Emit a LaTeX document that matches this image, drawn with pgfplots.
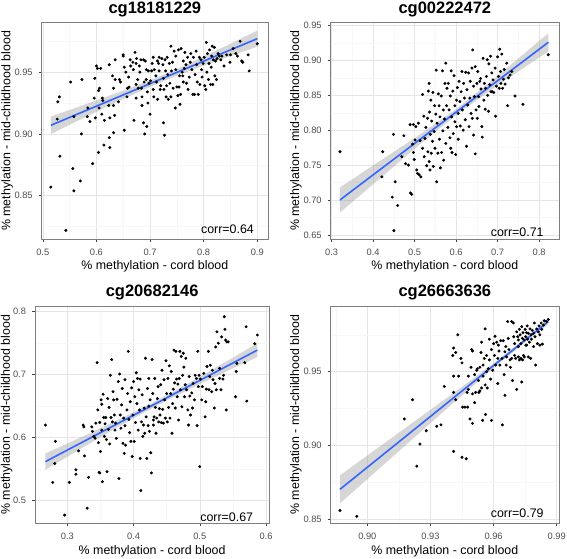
\documentclass[border=0pt]{standalone}
\usepackage{fontspec}
\setmainfont{Liberation Sans}
\usepackage{pgfplots}
\pgfplotsset{compat=1.18}
\definecolor{smoothblue}{HTML}{3366FF}
\definecolor{bandgrey}{HTML}{999999}
\definecolor{gridmaj}{HTML}{E5E5E5}
\definecolor{gridmin}{HTML}{F7F7F7}
\definecolor{bordergrey}{HTML}{7F7F7F}
\definecolor{ticktext}{HTML}{4D4D4D}
\pgfplotsset{
  ggpanel/.style={
    scale only axis,
    axis line style={bordergrey, line width=0.5pt},
    tick align=outside, tick pos=left,
    major tick length=3pt,
    major tick style={black!75, line width=0.5pt},
    minor tick length=0pt,
    grid=both,
    major grid style={gridmaj, line width=0.5pt},
    minor grid style={gridmin, line width=0.4pt},
    tick label style={font=\fontsize{9.3}{11}\selectfont, text=ticktext},
    xticklabel style={yshift=-3.5pt},
    yticklabel style={xshift=-2.5pt},
    label style={font=\fontsize{12.4}{14}\selectfont},
    title style={font=\fontsize{16.5}{19}\selectfont\bfseries},
    xlabel={\% methylation - cord blood},
    ylabel={\% methylation - mid-childhood blood},
    clip=true,
  },
  pts/.style={only marks, mark=*, mark size=1.3pt, black},
  band/.style={fill=bandgrey, draw=none, fill opacity=0.4},
  fit/.style={smoothblue, line width=1.6pt, no marks},
}
\begin{document}
\begin{tikzpicture}
%================ Panel 1 =================
\begin{axis}[ggpanel,
  at={(41.7pt,319pt)}, anchor=south west,
  width=226.3pt, height=216.3pt,
  xmin=0.498, xmax=0.920, ymin=0.815, ymax=0.990,
  xtick={0.5,0.6,0.7,0.8,0.9}, xticklabels={0.5,0.6,0.7,0.8,0.9},
  ytick={0.85,0.90,0.95}, yticklabels={0.85,0.90,0.95},
  minor xtick={0.55,0.65,0.75,0.85}, minor ytick={0.825,0.875,0.925,0.975},
  title={cg18181229},
  title style={at={(axis description cs:0.5,1.035)}, anchor=center},
  xlabel style={at={(axis description cs:0.5,-0.124)}, anchor=center},
  ylabel style={at={(axis description cs:-0.153,0.5)}, anchor=center, rotate=0},
]
\addplot[pts] coordinates {
(0.515,0.857)(0.543,0.822)(0.532,0.882)(0.556,0.872)(0.558,0.854)(0.570,0.862)(0.593,0.876)
(0.527,0.912)(0.528,0.926)(0.531,0.930)(0.552,0.942)(0.573,0.944)(0.572,0.900)(0.558,0.914)
(0.583,0.914)(0.584,0.921)(0.588,0.910)(0.598,0.913)(0.596,0.929)(0.597,0.945)(0.600,0.955)
(0.602,0.953)(0.608,0.953)(0.604,0.935)(0.606,0.937)(0.605,0.921)(0.604,0.885)(0.611,0.929)
(0.612,0.927)(0.610,0.916)(0.615,0.911)(0.614,0.891)(0.624,0.897)(0.625,0.889)(0.623,0.923)
(0.625,0.913)(0.624,0.956)(0.630,0.947)(0.632,0.937)(0.632,0.923)(0.634,0.915)(0.632,0.901)
(0.635,0.960)(0.635,0.944)(0.641,0.926)(0.643,0.944)(0.645,0.942)(0.650,0.964)(0.650,0.963)
(0.652,0.954)(0.652,0.903)(0.655,0.950)(0.657,0.930)(0.658,0.937)(0.660,0.946)(0.661,0.938)
(0.663,0.960)(0.664,0.955)(0.668,0.958)(0.669,0.952)(0.670,0.911)(0.672,0.966)(0.674,0.957)
(0.674,0.940)(0.674,0.929)(0.675,0.961)(0.677,0.944)(0.678,0.937)(0.680,0.955)(0.681,0.950)
(0.683,0.960)(0.684,0.937)(0.685,0.930)(0.685,0.923)(0.688,0.909)(0.688,0.960)(0.689,0.942)
(0.690,0.900)(0.691,0.959)(0.693,0.952)(0.693,0.944)(0.694,0.906)(0.695,0.934)(0.696,0.925)
(0.697,0.951)(0.698,0.941)(0.700,0.916)(0.701,0.943)(0.703,0.951)(0.704,0.957)(0.706,0.962)
(0.706,0.936)(0.707,0.930)(0.708,0.952)(0.711,0.947)(0.712,0.942)(0.714,0.928)(0.714,0.959)
(0.716,0.957)(0.717,0.962)(0.717,0.951)(0.719,0.936)(0.720,0.939)(0.722,0.961)(0.724,0.956)
(0.725,0.945)(0.725,0.909)(0.726,0.936)(0.727,0.899)(0.728,0.960)(0.729,0.951)(0.730,0.930)
(0.731,0.939)(0.732,0.962)(0.733,0.948)(0.734,0.928)(0.736,0.957)(0.737,0.941)(0.739,0.971)
(0.739,0.930)(0.740,0.951)(0.742,0.958)(0.743,0.937)(0.745,0.967)(0.747,0.921)(0.748,0.963)
(0.748,0.952)(0.750,0.938)(0.752,0.931)(0.753,0.968)(0.754,0.938)(0.755,0.947)(0.756,0.924)
(0.757,0.932)(0.758,0.969)(0.760,0.950)(0.761,0.947)(0.762,0.959)(0.762,0.942)(0.764,0.953)
(0.765,0.966)(0.767,0.956)(0.768,0.941)(0.770,0.962)(0.771,0.936)(0.773,0.946)(0.775,0.958)
(0.776,0.965)(0.778,0.952)(0.780,0.932)(0.781,0.962)(0.783,0.932)(0.784,0.948)(0.786,0.967)
(0.787,0.956)(0.788,0.942)(0.790,0.932)(0.792,0.962)(0.793,0.940)(0.795,0.960)(0.796,0.952)
(0.797,0.946)(0.799,0.957)(0.801,0.962)(0.802,0.939)(0.804,0.936)(0.805,0.974)(0.806,0.950)
(0.807,0.965)(0.809,0.944)(0.810,0.957)(0.811,0.968)(0.813,0.940)(0.814,0.954)(0.815,0.963)
(0.816,0.971)(0.817,0.940)(0.818,0.960)(0.820,0.970)(0.821,0.947)(0.822,0.959)(0.824,0.944)
(0.825,0.961)(0.827,0.965)(0.829,0.963)(0.832,0.960)(0.834,0.963)(0.838,0.955)(0.849,0.958)
(0.855,0.969)(0.860,0.965)(0.863,0.963)(0.868,0.975)(0.871,0.959)(0.873,0.958)(0.883,0.964)
(0.885,0.951)(0.900,0.973)(0.850,0.964)(0.843,0.964)
};
\addplot[band] coordinates {
(0.515,0.9142)(0.55,0.9194)(0.60,0.9271)(0.65,0.9350)(0.70,0.9434)(0.75,0.9525)(0.80,0.9625)(0.85,0.9730)(0.90,0.9836)
(0.90,0.9706)(0.85,0.9630)(0.80,0.9553)(0.75,0.9471)(0.70,0.9380)(0.65,0.9282)(0.60,0.9179)(0.55,0.9074)(0.515,0.8998)
} -- cycle;
\addplot[fit] coordinates {(0.515,0.9070)(0.900,0.9771)};
\node[anchor=east, font=\fontsize{12.4}{14}\selectfont] at (axis description cs:0.953,0.045) {corr=0.64};
\end{axis}
%================ Panel 2 =================
\begin{axis}[ggpanel,
  at={(330.7pt,319pt)}, anchor=south west,
  width=228.3pt, height=216.3pt,
  xmin=0.2976, xmax=0.848, ymin=0.644, ymax=0.954,
  xtick={0.3,0.4,0.5,0.6,0.7,0.8}, xticklabels={0.3,0.4,0.5,0.6,0.7,0.8},
  ytick={0.65,0.70,0.75,0.80,0.85,0.90,0.95}, yticklabels={0.65,0.70,0.75,0.80,0.85,0.90,0.95},
  minor xtick={0.35,0.45,0.55,0.65,0.75}, minor ytick={0.675,0.725,0.775,0.825,0.875,0.925},
  title={cg00222472},
  title style={at={(axis description cs:0.5,1.035)}, anchor=center},
  xlabel style={at={(axis description cs:0.5,-0.124)}, anchor=center},
  ylabel style={at={(axis description cs:-0.152,0.5)}, anchor=center, rotate=0},
]
\addplot[pts] coordinates {
(0.320,0.769)(0.423,0.769)(0.421,0.733)(0.449,0.794)(0.446,0.704)(0.453,0.726)(0.450,0.656)
(0.459,0.692)(0.469,0.762)(0.474,0.792)(0.478,0.752)(0.485,0.750)(0.489,0.808)(0.490,0.710)
(0.493,0.708)(0.495,0.780)(0.497,0.808)(0.497,0.768)(0.499,0.758)(0.501,0.786)(0.503,0.805)
(0.505,0.743)(0.507,0.738)(0.509,0.810)(0.511,0.736)(0.513,0.785)(0.515,0.733)(0.519,0.774)
(0.519,0.851)(0.522,0.820)(0.523,0.762)(0.525,0.788)(0.527,0.804)(0.529,0.749)(0.531,0.817)
(0.532,0.769)(0.533,0.856)(0.535,0.867)(0.535,0.755)(0.536,0.826)(0.537,0.743)(0.538,0.794)
(0.539,0.843)(0.540,0.767)(0.541,0.813)(0.543,0.784)(0.544,0.854)(0.545,0.748)(0.547,0.798)
(0.548,0.835)(0.549,0.774)(0.551,0.823)(0.552,0.886)(0.553,0.726)(0.554,0.810)(0.556,0.767)
(0.557,0.852)(0.559,0.835)(0.560,0.787)(0.561,0.819)(0.562,0.746)(0.564,0.849)(0.565,0.768)
(0.567,0.885)(0.568,0.799)(0.569,0.829)(0.570,0.757)(0.572,0.816)(0.573,0.867)(0.575,0.896)
(0.575,0.781)(0.577,0.835)(0.578,0.860)(0.580,0.804)(0.581,0.867)(0.583,0.829)(0.585,0.789)
(0.586,0.849)(0.587,0.774)(0.588,0.885)(0.589,0.819)(0.590,0.768)(0.592,0.856)(0.593,0.795)
(0.595,0.878)(0.597,0.835)(0.597,0.812)(0.599,0.765)(0.601,0.843)(0.601,0.805)(0.603,0.861)
(0.605,0.824)(0.605,0.787)(0.607,0.870)(0.609,0.841)(0.610,0.806)(0.612,0.855)(0.614,0.884)
(0.615,0.829)(0.617,0.800)(0.618,0.867)(0.620,0.846)(0.622,0.815)(0.623,0.883)(0.625,0.777)
(0.626,0.858)(0.628,0.836)(0.630,0.882)(0.631,0.805)(0.633,0.846)(0.634,0.870)(0.636,0.824)
(0.638,0.889)(0.639,0.817)(0.640,0.915)(0.642,0.863)(0.642,0.793)(0.644,0.848)(0.646,0.891)
(0.646,0.766)(0.648,0.829)(0.650,0.867)(0.651,0.817)(0.652,0.884)(0.654,0.848)(0.655,0.834)
(0.657,0.870)(0.659,0.874)(0.660,0.859)(0.662,0.805)(0.663,0.790)(0.665,0.903)(0.667,0.843)
(0.668,0.867)(0.670,0.830)(0.671,0.860)(0.673,0.877)(0.675,0.901)(0.676,0.850)(0.678,0.827)
(0.679,0.895)(0.681,0.865)(0.683,0.906)(0.684,0.855)(0.686,0.882)(0.687,0.855)(0.689,0.872)
(0.691,0.854)(0.694,0.889)(0.695,0.820)(0.697,0.863)(0.700,0.905)(0.702,0.877)(0.704,0.860)
(0.705,0.916)(0.707,0.884)(0.708,0.867)(0.710,0.909)(0.712,0.860)(0.714,0.873)(0.716,0.887)
(0.718,0.866)(0.722,0.896)(0.724,0.835)(0.726,0.875)(0.730,0.879)(0.734,0.884)(0.742,0.849)
(0.761,0.837)(0.822,0.908)
};
\addplot[band] coordinates {
(0.32,0.718)(0.40,0.7495)(0.50,0.7885)(0.60,0.8302)(0.70,0.8778)(0.8225,0.939)
(0.8225,0.913)(0.70,0.8642)(0.60,0.8218)(0.50,0.7735)(0.40,0.7225)(0.32,0.682)
} -- cycle;
\addplot[fit] coordinates {(0.32,0.700)(0.8225,0.926)};
\node[anchor=east, font=\fontsize{12.4}{14}\selectfont] at (axis description cs:0.948,0.032) {corr=0.71};
\end{axis}
%================ Panel 3 =================
\begin{axis}[ggpanel,
  at={(35pt,34.7pt)}, anchor=south west,
  width=234.3pt, height=217.3pt,
  xmin=0.2512, xmax=0.605, ymin=0.464, ymax=0.809,
  xtick={0.3,0.4,0.5,0.6}, xticklabels={0.3,0.4,0.5,0.6},
  ytick={0.5,0.6,0.7,0.8}, yticklabels={0.5,0.6,0.7,0.8},
  minor xtick={0.25,0.35,0.45,0.55}, minor ytick={0.55,0.65,0.75},
  title={cg20682146},
  title style={at={(axis description cs:0.5,1.035)}, anchor=center},
  xlabel style={at={(axis description cs:0.5,-0.128)}, anchor=center},
  ylabel style={at={(axis description cs:-0.121,0.5)}, anchor=center, rotate=0},
]
\addplot[pts] coordinates {
(0.267,0.620)(0.278,0.529)(0.281,0.559)(0.282,0.594)(0.296,0.477)(0.303,0.529)(0.313,0.549)
(0.313,0.542)(0.317,0.579)(0.324,0.620)(0.325,0.617)(0.326,0.571)(0.330,0.488)(0.332,0.537)
(0.337,0.617)(0.338,0.610)(0.340,0.602)(0.342,0.599)(0.343,0.623)(0.345,0.719)(0.346,0.644)
(0.347,0.592)(0.348,0.545)(0.349,0.544)(0.349,0.624)(0.350,0.578)(0.351,0.660)(0.352,0.653)
(0.352,0.612)(0.353,0.530)(0.354,0.669)(0.355,0.632)(0.356,0.602)(0.357,0.622)(0.358,0.632)
(0.359,0.597)(0.360,0.546)(0.361,0.662)(0.362,0.613)(0.363,0.648)(0.364,0.590)(0.365,0.699)
(0.366,0.632)(0.367,0.724)(0.368,0.625)(0.369,0.673)(0.370,0.660)(0.371,0.636)(0.372,0.612)
(0.373,0.623)(0.374,0.599)(0.375,0.661)(0.377,0.689)(0.378,0.535)(0.379,0.701)(0.380,0.636)
(0.381,0.615)(0.382,0.652)(0.383,0.678)(0.384,0.591)(0.385,0.631)(0.386,0.575)(0.387,0.619)
(0.387,0.692)(0.388,0.588)(0.390,0.644)(0.391,0.670)(0.392,0.737)(0.393,0.629)(0.394,0.608)
(0.395,0.657)(0.396,0.594)(0.397,0.679)(0.398,0.570)(0.399,0.636)(0.400,0.689)(0.401,0.594)
(0.402,0.665)(0.403,0.624)(0.404,0.703)(0.405,0.654)(0.406,0.694)(0.407,0.612)(0.408,0.676)
(0.409,0.644)(0.410,0.693)(0.410,0.567)(0.411,0.516)(0.412,0.625)(0.413,0.668)(0.414,0.602)
(0.415,0.620)(0.416,0.647)(0.417,0.607)(0.418,0.726)(0.419,0.633)(0.420,0.567)(0.421,0.678)
(0.422,0.619)(0.423,0.650)(0.423,0.694)(0.424,0.610)(0.425,0.660)(0.426,0.576)(0.427,0.544)
(0.428,0.724)(0.429,0.670)(0.430,0.628)(0.430,0.620)(0.431,0.633)(0.432,0.694)(0.433,0.648)
(0.434,0.607)(0.435,0.631)(0.436,0.662)(0.437,0.681)(0.438,0.625)(0.439,0.646)(0.440,0.636)
(0.441,0.684)(0.442,0.624)(0.443,0.707)(0.444,0.645)(0.445,0.623)(0.446,0.692)(0.447,0.660)
(0.448,0.631)(0.449,0.722)(0.450,0.670)(0.451,0.625)(0.452,0.694)(0.453,0.648)(0.454,0.714)
(0.455,0.631)(0.456,0.670)(0.457,0.705)(0.458,0.607)(0.459,0.654)(0.460,0.677)(0.461,0.739)
(0.462,0.687)(0.463,0.647)(0.464,0.737)(0.465,0.693)(0.466,0.665)(0.467,0.685)(0.468,0.628)
(0.469,0.694)(0.470,0.737)(0.471,0.676)(0.472,0.729)(0.473,0.649)(0.474,0.699)(0.475,0.734)
(0.476,0.712)(0.477,0.665)(0.478,0.684)(0.479,0.726)(0.480,0.676)(0.482,0.644)(0.483,0.620)
(0.484,0.697)(0.485,0.666)(0.486,0.636)(0.488,0.671)(0.489,0.647)(0.490,0.686)(0.492,0.660)
(0.493,0.699)(0.495,0.694)(0.496,0.619)(0.497,0.737)(0.498,0.681)(0.499,0.699)(0.500,0.554)
(0.501,0.693)(0.503,0.660)(0.504,0.681)(0.506,0.702)(0.508,0.633)(0.509,0.657)(0.510,0.677)
(0.511,0.713)(0.513,0.737)(0.514,0.676)(0.515,0.697)(0.516,0.715)(0.518,0.673)(0.519,0.707)
(0.520,0.692)(0.522,0.647)(0.523,0.686)(0.524,0.744)(0.525,0.676)(0.526,0.768)(0.528,0.750)
(0.530,0.694)(0.530,0.710)(0.532,0.676)(0.533,0.760)(0.535,0.693)(0.536,0.699)(0.537,0.792)
(0.538,0.772)(0.539,0.755)(0.541,0.752)(0.543,0.752)(0.540,0.644)(0.556,0.718)(0.555,0.705)
(0.554,0.665)(0.568,0.719)(0.570,0.776)(0.571,0.658)(0.583,0.749)(0.587,0.763)
};
\addplot[band] coordinates {
(0.267,0.575)(0.30,0.5907)(0.35,0.6149)(0.40,0.6402)(0.45,0.6674)(0.50,0.6966)(0.55,0.7270)(0.587,0.750)
(0.587,0.728)(0.55,0.7100)(0.50,0.6850)(0.45,0.6590)(0.40,0.6308)(0.35,0.6009)(0.30,0.5697)(0.267,0.549)
} -- cycle;
\addplot[fit] coordinates {(0.267,0.562)(0.587,0.739)};
\node[anchor=east, font=\fontsize{12.4}{14}\selectfont] at (axis description cs:0.946,0.03) {corr=0.67};
\end{axis}
%================ Panel 4 =================
\begin{axis}[ggpanel,
  at={(330.7pt,34.7pt)}, anchor=south west,
  width=228.3pt, height=217.3pt,
  xmin=0.8826, xmax=0.9911, ymin=0.8473, ymax=0.9945,
  xtick={0.90,0.93,0.96,0.99}, xticklabels={0.90,0.93,0.96,0.99},
  ytick={0.85,0.90,0.95}, yticklabels={0.85,0.90,0.95},
  minor xtick={0.885,0.915,0.945,0.975}, minor ytick={0.875,0.925,0.975},
  title={cg26663636},
  title style={at={(axis description cs:0.5,1.035)}, anchor=center},
  xlabel style={at={(axis description cs:0.5,-0.128)}, anchor=center},
  ylabel style={at={(axis description cs:-0.152,0.5)}, anchor=center, rotate=0},
]
\addplot[pts] coordinates {
(0.887,0.856)(0.895,0.852)(0.9176,0.918)(0.9215,0.931)(0.9235,0.886)(0.925,0.901)(0.928,0.910)
(0.933,0.913)(0.935,0.914)(0.9366,0.940)(0.941,0.896)(0.941,0.936)(0.942,0.931)(0.9406,0.961)
(0.941,0.966)(0.942,0.963)(0.941,0.947)(0.943,0.975)(0.9434,0.947)(0.9445,0.959)(0.945,0.956)
(0.945,0.892)(0.9453,0.926)(0.9464,0.926)(0.947,0.891)(0.9474,0.936)(0.9477,0.926)(0.948,0.947)
(0.948,0.938)(0.9488,0.918)(0.9493,0.953)(0.9496,0.965)(0.950,0.915)(0.950,0.964)(0.950,0.935)
(0.951,0.948)(0.951,0.929)(0.9515,0.936)(0.952,0.951)(0.9523,0.952)(0.9528,0.944)(0.953,0.936)
(0.9535,0.937)(0.9535,0.953)(0.954,0.963)(0.9543,0.970)(0.9543,0.939)(0.9548,0.917)(0.955,0.9545)
(0.955,0.947)(0.9556,0.959)(0.956,0.979)(0.956,0.941)(0.9562,0.921)(0.9567,0.950)(0.9567,0.961)
(0.957,0.939)(0.9575,0.952)(0.958,0.972)(0.958,0.958)(0.9586,0.945)(0.959,0.917)(0.959,0.965)
(0.9596,0.951)(0.960,0.969)(0.9604,0.961)(0.9607,0.974)(0.961,0.9545)(0.9615,0.970)(0.962,0.959)
(0.962,0.942)(0.9623,0.968)(0.9626,0.964)(0.963,0.9545)(0.9634,0.971)(0.964,0.959)(0.9642,0.914)
(0.9646,0.971)(0.965,0.948)(0.9654,0.934)(0.9654,0.9635)(0.9658,0.967)(0.966,0.9545)(0.9662,0.960)
(0.9667,0.984)(0.967,0.9725)(0.9673,0.965)(0.9678,0.958)(0.968,0.953)(0.9686,0.959)(0.969,0.944)
(0.9694,0.983)(0.9696,0.9737)(0.970,0.969)(0.970,0.961)(0.9705,0.959)(0.971,0.938)(0.971,0.977)
(0.9715,0.9737)(0.9718,0.9715)(0.9718,0.960)(0.9723,0.958)(0.9723,0.9787)(0.9726,0.975)(0.973,0.969)
(0.973,0.959)(0.9734,0.943)(0.9734,0.9805)(0.9737,0.9726)(0.9738,0.958)(0.974,0.9764)(0.9745,0.9715)
(0.9746,0.960)(0.975,0.9787)(0.9753,0.9737)(0.9753,0.968)(0.9757,0.9764)(0.976,0.981)(0.9762,0.972)
(0.9765,0.976)(0.977,0.970)(0.9773,0.979)(0.9776,0.959)(0.9778,0.975)(0.978,0.972)(0.9784,0.978)
(0.979,0.976)(0.9794,0.983)(0.9797,0.9737)(0.980,0.9545)(0.9805,0.979)(0.9808,0.969)(0.9813,0.977)
(0.9816,0.981)(0.982,0.975)(0.9826,0.983)(0.9829,0.9787)(0.9832,0.9687)(0.9837,0.9816)(0.9841,0.9845)
(0.9852,0.984)(0.986,0.9854)(0.982,0.968)(0.9686,0.984)(0.9757,0.968)(0.9765,0.960)(0.979,0.967)
(0.9742,0.961)(0.9718,0.967)
};
\addplot[band] coordinates {
(0.887,0.8798)(0.90,0.8932)(0.92,0.9139)(0.94,0.9345)(0.96,0.9557)(0.975,0.9726)(0.986,0.9859)
(0.986,0.9821)(0.975,0.9700)(0.96,0.9525)(0.94,0.9277)(0.92,0.9025)(0.90,0.8772)(0.887,0.8608)
} -- cycle;
\addplot[fit] coordinates {(0.887,0.8703)(0.986,0.9840)};
\node[anchor=east, font=\fontsize{12.4}{14}\selectfont] at (axis description cs:0.948,0.046) {corr=0.79};
\end{axis}
\pgfresetboundingbox
\useasboundingbox (0,0) rectangle (567pt,558pt);
\end{tikzpicture}
\end{document}
